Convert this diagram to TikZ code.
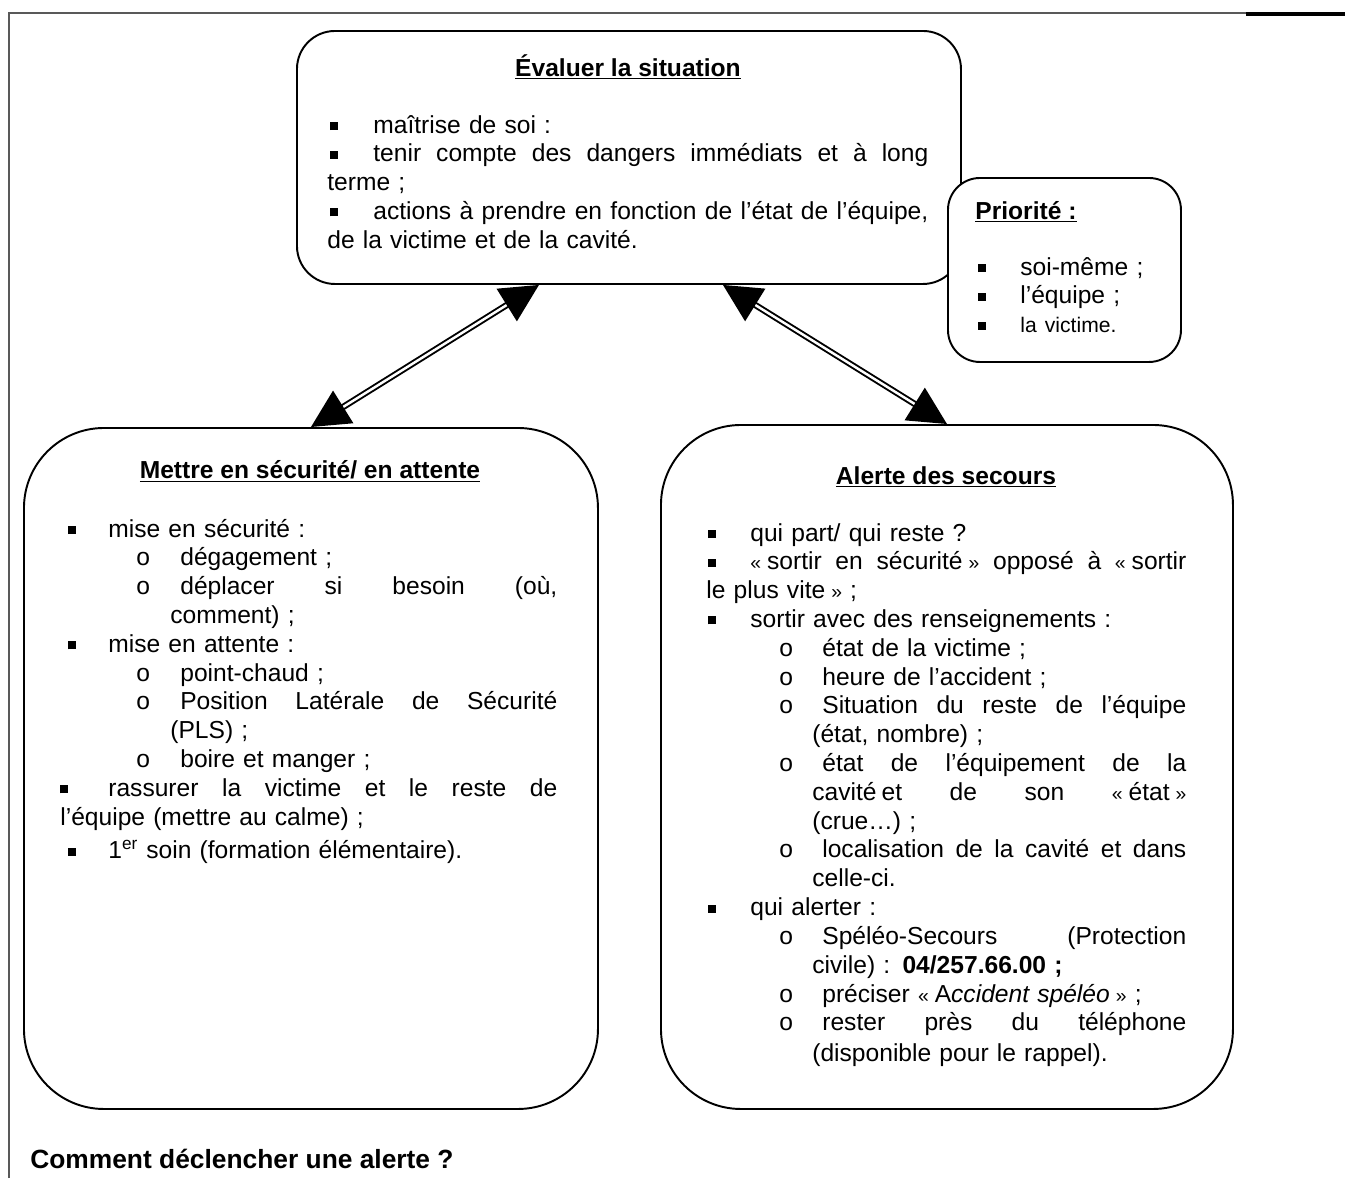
\documentclass[tikz,border=0pt]{standalone}
\usepackage{fontspec}
\setmainfont{Liberation Sans}
\usetikzlibrary{arrows.meta}

\newlength\pxu
\setlength\pxu{0.02cm}
\newcommand\sqb{\rule[3\pxu]{8\pxu}{8\pxu}}
\newcommand\bul[2]{\hspace*{#1\pxu}\makebox[#2\pxu][l]{\sqb}}
\newcommand\subo[2]{\hspace*{#1\pxu}\makebox[#2\pxu][l]{o}}
\newcommand\jus[2]{\makebox[#1\pxu][s]{\spaceskip=0.278em plus 1fil\xspaceskip=\spaceskip #2}}
\newcommand\gouv{{\fontsize{11}{13}\selectfont «}\kern6\pxu}
\newcommand\gfer{\kern6\pxu{\fontsize{11}{13}\selectfont »}}

\tikzset{
  boxe/.style={draw, line width=1.1pt, fill=white, inner sep=0pt, anchor=north west},
  corps/.style={anchor=base west, inner sep=0pt, align=left, font=\fontsize{14}{16.4}\selectfont},
  titre/.style={anchor=base, inner sep=0pt, font=\fontsize{14}{16.4}\selectfont\bfseries},
  lien/.style={double, line width=1.1pt, double distance=1.4pt,
    {Triangle[length=0.76cm,width=0.76cm]}-{Triangle[length=0.76cm,width=0.76cm]}}
}

\begin{document}
\begin{tikzpicture}[x=0.02cm,y=-0.02cm]
    \useasboundingbox (0,0) rectangle (1345,1178);
    % page frame
    \draw[black!65, line width=0.6pt] (9,1178) -- (9,13) -- (1246,13);
    \draw[line width=1.8pt] (1246,14) -- (1345,14);

    % the boxes
    \node[boxe, rounded corners=38\pxu, minimum width=664\pxu, minimum height=253\pxu] (eval) at (296,30) {};
    \node[boxe, rounded corners=32\pxu, minimum width=233\pxu, minimum height=184\pxu] (prio) at (947,177) {};
    \node[boxe, rounded corners=80\pxu, minimum width=574\pxu, minimum height=681\pxu] (secu) at (23,427) {};
    \node[boxe, rounded corners=80\pxu, minimum width=572\pxu, minimum height=684\pxu] (alerte) at (660,424) {};

    \draw[lien] (secu.north) -- ([xshift=-90\pxu]eval.south);
    \draw[lien] ([xshift=94\pxu]eval.south) -- (alerte.north);

    % Evaluer
    \node[titre] (evaltitre) at (628,76) {\underline{Évaluer la situation}};
    \node[corps, text width=610\pxu] (evaltexte) at (327,133) {%
      \bul{3}{43}maîtrise de soi :\\
      \bul{3}{43}\jus{555}{tenir compte des dangers immédiats et à long}\\
      terme ;\\
      \bul{3}{43}\jus{555}{actions à prendre en fonction de l’état de l’équipe,}\\
      de la victime et de la cavité.};

    % Priorite
    \node[titre, anchor=base west] (priotitre) at (975,219) {\underline{Priorité :}};
    \node[corps, text width=180\pxu] (priotexte) at (975,275) {%
      \bul{3}{42}soi-même ;\\
      \bul{3}{42}l’équipe ;\\
      \bul{3}{42}{\fontsize{12}{14}\selectfont la victime.}};

    % Mettre en securite
    \node[titre] (secutitre) at (310,478) {\underline{Mettre en sécurité/ en attente}};
    \node[corps, text width=510\pxu] (secutexte) at (60,537) {%
      \bul{8}{40}mise en sécurité :\\
      \subo{76}{44}dégagement ;\\
      \subo{76}{44}\jus{377}{déplacer si besoin (où,}\\
      \hspace*{110\pxu}comment) ;\\
      \bul{8}{40}mise en attente :\\
      \subo{76}{44}point-chaud ;\\
      \subo{76}{44}\jus{377}{Position Latérale de Sécurité}\\
      \hspace*{110\pxu}(PLS) ;\\
      \subo{76}{44}boire et manger ;\\
      \bul{0}{48}\jus{449}{rassurer la victime et le reste de}\\
      l’équipe (mettre au calme) ;\\[5\pxu]
      \bul{8}{40}1\textsuperscript{er} soin (formation élémentaire).};

    % Alerte
    \node[titre] (alertetitre) at (946,484) {\underline{Alerte des secours}};
    \node[corps, text width=490\pxu] (alertetexte) at (706,541) {%
      \bul{2}{42}qui part/ qui reste ?\\
      \bul{2}{42}\jus{436}{\gouv sortir en sécurité\gfer{} opposé à \gouv sortir}\\
      le plus vite\gfer{} ;\\
      \bul{2}{42}sortir avec des renseignements :\\
      \subo{73}{43}état de la victime ;\\
      \subo{73}{43}heure de l’accident ;\\
      \subo{73}{43}\jus{364}{Situation du reste de l’équipe}\\
      \hspace*{106\pxu}(état, nombre) ;\\
      \subo{73}{43}\jus{364}{état de l’équipement de la}\\
      \hspace*{106\pxu}\jus{374}{cavité\kern5\pxu et de son \gouv état\gfer}\\
      \hspace*{106\pxu}(crue…) ;\\
      \subo{73}{43}\jus{364}{localisation de la cavité et dans}\\
      \hspace*{106\pxu}celle-ci.\\
      \bul{2}{42}qui alerter :\\
      \subo{73}{43}\jus{364}{Spéléo-Secours (Protection}\\
      \hspace*{106\pxu}civile) : \textbf{04/257.66.00 ;}\\
      \subo{73}{43}préciser \gouv A\textit{ccident spéléo}\gfer{} ;\\
      \subo{73}{43}\jus{364}{rester près du téléphone}\\[2\pxu]
      \hspace*{106\pxu}(disponible pour le rappel).};

    \node[anchor=base west, inner sep=0pt, font=\fontsize{15}{18}\selectfont\bfseries] (question) at (30,1168) {Comment déclencher une alerte ?};
\end{tikzpicture}
\end{document}
